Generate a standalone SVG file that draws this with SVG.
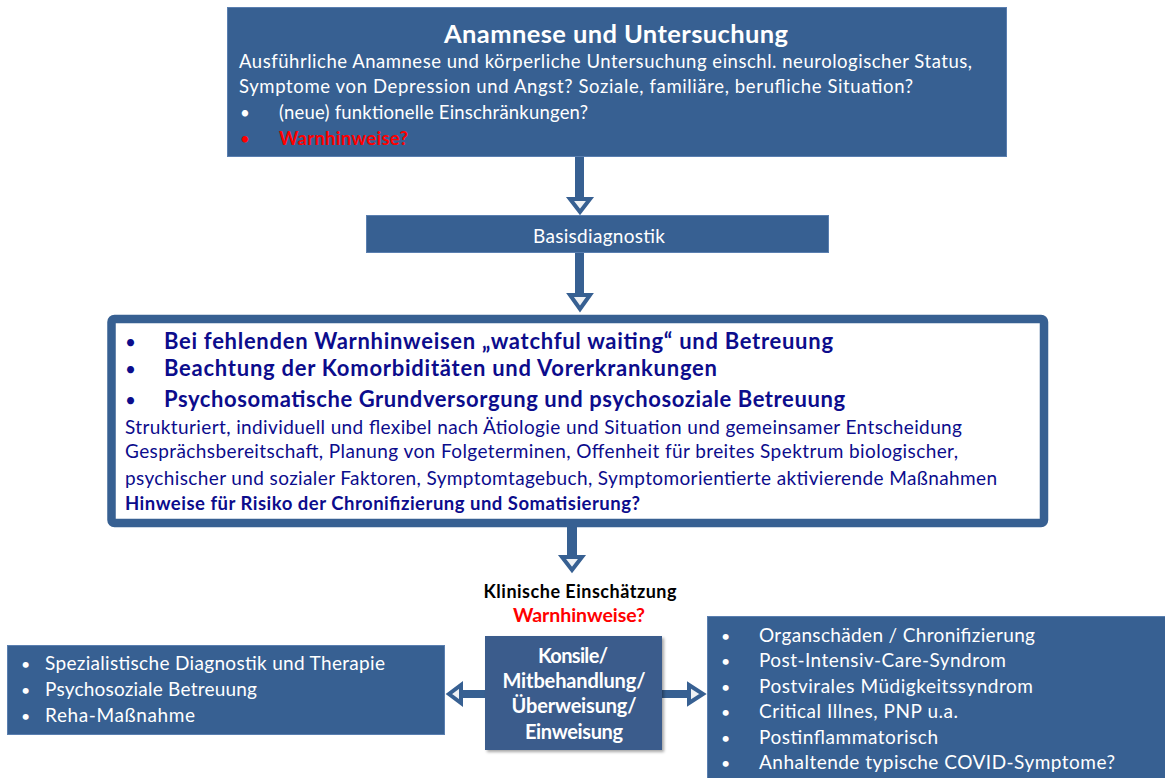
<svg xmlns="http://www.w3.org/2000/svg" width="1165" height="778" viewBox="0 0 1165 778">
<style>
  .box { fill: #376092; stroke: #5a7fb0; stroke-width: 1; }
  .t { font-family: "Lato", "Liberation Sans", sans-serif; }
  .w { fill: #ffffff; }
  .nv { fill: #0c0c8c; }
  .b { font-weight: bold; }
  .red { fill: #ff0000; }
  .shaft { fill: #376092; }
  .head { fill: #eef1f4; stroke: #376092; stroke-width: 4; stroke-linejoin: miter; }
</style>
<defs>
  <filter id="sh" x="-10%" y="-10%" width="130%" height="130%">
    <feDropShadow dx="2" dy="2" stdDeviation="1.5" flood-color="#000000" flood-opacity="0.35"/>
  </filter>
</defs>
<rect width="1165" height="778" fill="#ffffff"/>

<g id="connectors">
  <rect class="shaft" x="575" y="157" width="9" height="42"/>
  <polygon class="head" points="570,199 590,199 580,212"/>
  <rect class="shaft" x="575" y="253" width="9" height="42"/>
  <polygon class="head" points="570,295 590,295 580,309"/>
  <rect class="shaft" x="567" y="527" width="10" height="30"/>
  <polygon class="head" points="562,557 582,557 572,570"/>
  <rect class="shaft" x="460" y="690" width="26" height="8"/>
  <polygon class="head" points="461,685 461,703 449,694"/>
  <rect class="shaft" x="661" y="690" width="29" height="8"/>
  <polygon class="head" points="689,685 689,703 703,694"/>
</g>

<g id="n-anamnese">
  <rect class="box" x="227.5" y="7.5" width="779" height="149"/>
  <text class="t w b" x="444" y="43" font-size="25.5" textLength="344">Anamnese und Untersuchung</text>
  <text class="t w" x="239" y="68" font-size="18.5" textLength="733">Ausführliche Anamnese und körperliche Untersuchung einschl. neurologischer Status,</text>
  <text class="t w" x="239" y="93" font-size="18.5" textLength="674">Symptome von Depression und Angst? Soziale, familiäre, berufliche Situation?</text>
  <text class="t w" x="240" y="119" font-size="17">•</text>
  <text class="t w" x="279" y="119" font-size="18.5" textLength="309">(neue) funktionelle Einschränkungen?</text>
  <text class="t red" x="240" y="145" font-size="17">•</text>
  <text class="t red b" x="279" y="145" font-size="18.5" textLength="129">Warnhinweise?</text>
</g>

<g id="n-basis">
  <rect class="box" x="366.5" y="215.5" width="462" height="37"/>
  <text class="t w" x="599" y="243" font-size="19" text-anchor="middle" textLength="132">Basisdiagnostik</text>
</g>

<g id="n-main">
  <rect x="111.5" y="319" width="932.5" height="204" rx="3" fill="#ffffff" stroke="#376092" stroke-width="8.5"/>
  <text class="t nv" x="125" y="349" font-size="19">•</text>
  <text class="t nv b" x="164" y="349" font-size="22" textLength="669">Bei fehlenden Warnhinweisen „watchful waiting“ und Betreuung</text>
  <text class="t nv" x="125" y="376" font-size="19">•</text>
  <text class="t nv b" x="164" y="376" font-size="22" textLength="553">Beachtung der Komorbiditäten und Vorerkrankungen</text>
  <text class="t nv" x="125" y="407" font-size="19">•</text>
  <text class="t nv b" x="164" y="407" font-size="22" textLength="681">Psychosomatische Grundversorgung und psychosoziale Betreuung</text>
  <text class="t nv" x="125" y="434" font-size="19" textLength="837">Strukturiert, individuell und flexibel nach Ätiologie und Situation und gemeinsamer Entscheidung</text>
  <text class="t nv" x="125" y="458" font-size="19" textLength="833">Gesprächsbereitschaft, Planung von Folgeterminen, Offenheit für breites Spektrum biologischer,</text>
  <text class="t nv" x="125" y="485" font-size="19" textLength="872">psychischer und sozialer Faktoren, Symptomtagebuch, Symptomorientierte aktivierende Maßnahmen</text>
  <text class="t nv b" x="125" y="510" font-size="18.5" textLength="515">Hinweise für Risiko der Chronifizierung und Somatisierung?</text>
</g>

<g id="n-klinisch">
  <text class="t b" x="580" y="598" font-size="18" text-anchor="middle" fill="#000000" textLength="193">Klinische Einschätzung</text>
  <text class="t red b" x="579" y="622" font-size="19.5" text-anchor="middle" textLength="132">Warnhinweise?</text>
</g>

<g id="n-konsile">
  <rect x="485" y="636" width="177" height="114" fill="#3b5c8c" filter="url(#sh)"/>
  <text class="t w b" x="573" y="663" font-size="20" text-anchor="middle" textLength="70">Konsile/</text>
  <text class="t w b" x="574" y="688" font-size="20" text-anchor="middle" textLength="143">Mitbehandlung/</text>
  <text class="t w b" x="574" y="713" font-size="20" text-anchor="middle" textLength="125">Überweisung/</text>
  <text class="t w b" x="574" y="739" font-size="20" text-anchor="middle" textLength="98">Einweisung</text>
</g>

<g id="n-left">
  <rect class="box" x="7.5" y="645.5" width="437" height="89"/>
  <text class="t w" x="21" y="670" font-size="16">•</text>
  <text class="t w" x="45" y="670" font-size="19" textLength="340">Spezialistische Diagnostik und Therapie</text>
  <text class="t w" x="21" y="696" font-size="16">•</text>
  <text class="t w" x="45" y="696" font-size="19" textLength="212">Psychosoziale Betreuung</text>
  <text class="t w" x="21" y="722" font-size="16">•</text>
  <text class="t w" x="45" y="722" font-size="19" textLength="150">Reha-Maßnahme</text>
</g>

<g id="n-right">
  <rect class="box" x="707.5" y="616.5" width="460" height="165"/>
  <text class="t w" x="721" y="642" font-size="16">•</text>
  <text class="t w" x="759" y="642" font-size="19" textLength="276">Organschäden / Chronifizierung</text>
  <text class="t w" x="721" y="667" font-size="16">•</text>
  <text class="t w" x="759" y="667" font-size="19" textLength="247">Post-Intensiv-Care-Syndrom</text>
  <text class="t w" x="721" y="693" font-size="16">•</text>
  <text class="t w" x="759" y="693" font-size="19" textLength="274">Postvirales Müdigkeitssyndrom</text>
  <text class="t w" x="721" y="718" font-size="16">•</text>
  <text class="t w" x="759" y="718" font-size="19" textLength="199">Critical Illnes, PNP u.a.</text>
  <text class="t w" x="721" y="744" font-size="16">•</text>
  <text class="t w" x="759" y="744" font-size="19" textLength="179">Postinflammatorisch</text>
  <text class="t w" x="721" y="769" font-size="16">•</text>
  <text class="t w" x="759" y="769" font-size="19" textLength="356">Anhaltende typische COVID-Symptome?</text>
</g>
</svg>
